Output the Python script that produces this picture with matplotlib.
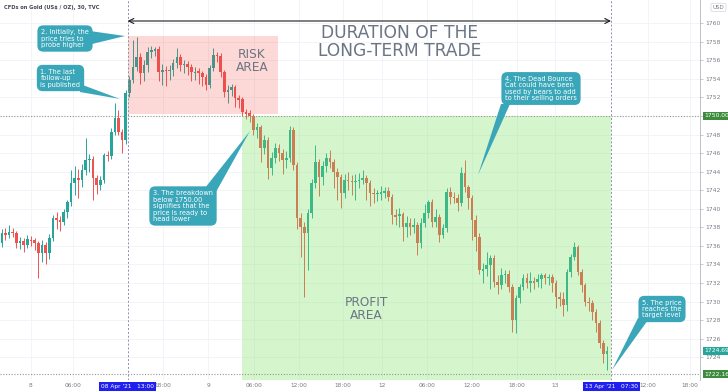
import matplotlib
matplotlib.use('Agg')
import matplotlib.pyplot as plt
import matplotlib.transforms as mtransforms
from matplotlib.patches import Rectangle, Polygon

# ---------------- data (30-min candles, bar index from 8 Apr 00:00) ----------------
start_index = -8
first_open = 1736.3
closes = [
    1737.4, 1737.2, 1737.5, 1737.4, 1736.3, 1736.5, 1736.1, 1736.7,
    1736.6, 1736.3, 1735.2, 1736.1, 1735.2, 1736.9, 1739.0, 1738.8, 1738.6, 1739.7,
    1740.7, 1742.8, 1743.3, 1743.1, 1744.2, 1745.3, 1745.4, 1743.3, 1742.6, 1743.1,
    1745.8, 1745.7, 1748.3, 1749.8, 1748.3, 1747.4, 1752.5, 1753.9, 1755.3, 1756.4,
    1754.6, 1755.5, 1756.9, 1757.1, 1757.2, 1754.7, 1755.0, 1754.8, 1755.0, 1755.7,
    1756.4, 1755.5, 1755.6, 1755.3, 1754.7, 1754.8, 1754.6, 1754.2, 1753.3, 1755.2,
    1756.6, 1756.5, 1754.7, 1752.6, 1752.8, 1753.1, 1751.9, 1751.8, 1750.4, 1750.3,
    1750.0, 1748.5, 1748.8, 1746.6, 1747.4, 1744.4, 1745.5, 1746.6, 1746.0, 1745.3,
    1745.5, 1748.5, 1744.7, 1739.0, 1738.0, 1737.4, 1739.5, 1742.8, 1745.0, 1743.4,
    1744.6, 1745.5, 1745.0, 1744.0, 1743.4, 1741.7, 1743.1, 1743.0, 1742.9, 1743.0,
    1743.1, 1743.3, 1742.8, 1741.7, 1741.6, 1741.6, 1741.8, 1741.9, 1741.3, 1739.3,
    1739.2, 1739.4, 1738.0, 1738.5, 1738.0, 1738.3, 1736.3, 1738.5, 1739.5, 1740.7,
    1738.6, 1739.1, 1737.2, 1737.9, 1741.8, 1741.3, 1741.2, 1740.6, 1743.9, 1742.3,
    1741.2, 1738.8, 1737.0, 1733.4, 1733.5, 1733.9, 1734.7, 1732.1, 1731.8, 1732.9,
    1733.0, 1731.6, 1728.0, 1730.4, 1731.6, 1732.5, 1732.0, 1732.2, 1732.1, 1732.4,
    1732.9, 1732.5, 1732.7, 1732.0, 1730.5, 1730.3, 1729.6, 1733.2, 1734.8, 1735.9,
    1733.2, 1731.8, 1730.0, 1729.8, 1728.9, 1727.7, 1725.5, 1724.4, 1724.69,
]
highs = [
    1737.8, 1737.9, 1738.3, 1737.9, 1737.6, 1737.0, 1736.9, 1737.2,
    1737.1, 1736.9, 1736.5, 1736.6, 1736.4, 1737.3, 1739.3, 1739.7, 1739.2, 1740.0,
    1741.0, 1744.2, 1744.6, 1744.3, 1744.8, 1747.6, 1745.9, 1745.7, 1743.6, 1743.5,
    1746.0, 1746.2, 1748.7, 1751.4, 1750.6, 1748.6, 1752.8, 1754.3, 1758.2, 1758.5,
    1756.8, 1756.0, 1757.4, 1757.5, 1757.4, 1757.5, 1755.6, 1755.4, 1755.5, 1756.1,
    1757.3, 1756.7, 1756.0, 1755.9, 1755.6, 1755.3, 1755.2, 1754.9, 1754.5, 1755.5,
    1757.3, 1756.9, 1756.8, 1755.0, 1753.3, 1753.5, 1753.3, 1752.3, 1752.0, 1750.8,
    1750.6, 1750.2, 1749.2, 1749.0, 1748.0, 1747.7, 1746.1, 1747.1, 1747.0, 1746.4,
    1746.2, 1748.9, 1748.8, 1745.0, 1739.5, 1738.6, 1740.0, 1743.2, 1746.9, 1745.4,
    1745.2, 1746.0, 1746.3, 1745.4, 1744.4, 1743.8, 1743.7, 1744.0, 1743.6, 1743.8,
    1743.9, 1744.2, 1743.6, 1743.1, 1742.2, 1742.0, 1742.5, 1742.4, 1742.3, 1741.6,
    1740.0, 1740.1, 1739.7, 1739.2, 1739.0, 1739.0, 1738.6, 1739.0, 1740.5, 1741.0,
    1741.1, 1740.0, 1739.4, 1738.4, 1742.2, 1742.3, 1741.8, 1741.6, 1744.5, 1745.3,
    1742.6, 1741.5, 1739.3, 1737.4, 1734.2, 1735.3, 1735.0, 1735.0, 1732.9, 1733.6,
    1733.4, 1733.4, 1731.9, 1730.7, 1731.9, 1733.0, 1733.1, 1733.2, 1732.7, 1733.0,
    1733.1, 1733.1, 1733.0, 1733.0, 1732.3, 1731.0, 1731.0, 1733.5, 1735.1, 1736.4,
    1736.1, 1733.5, 1732.0, 1730.5, 1730.2, 1729.2, 1728.0, 1725.9, 1725.2,
]
lows = [
    1735.9, 1736.6, 1736.9, 1737.0, 1735.8, 1735.7, 1735.3, 1735.8,
    1736.0, 1735.6, 1732.5, 1734.3, 1734.0, 1734.6, 1736.5, 1737.8, 1737.6, 1738.2,
    1739.0, 1740.3, 1741.5, 1741.2, 1742.3, 1743.6, 1744.0, 1741.0, 1741.6, 1742.0,
    1742.8, 1745.2, 1745.4, 1748.0, 1747.9, 1746.0, 1747.0, 1752.0, 1753.6, 1754.8,
    1753.5, 1753.8, 1754.7, 1756.2, 1756.5, 1753.8, 1753.3, 1753.2, 1753.9, 1754.3,
    1755.2, 1754.9, 1754.6, 1754.4, 1753.8, 1753.9, 1753.5, 1753.2, 1752.8, 1753.0,
    1754.9, 1755.8, 1754.2, 1752.0, 1751.4, 1752.2, 1751.0, 1750.9, 1750.0, 1749.7,
    1749.4, 1748.0, 1747.6, 1745.0, 1745.9, 1743.2, 1743.6, 1744.9, 1745.2, 1743.8,
    1744.4, 1745.0, 1744.2, 1737.8, 1734.8, 1730.5, 1733.4, 1739.0, 1742.2, 1741.4,
    1742.6, 1744.0, 1744.4, 1742.2, 1741.0, 1740.1, 1741.2, 1742.0, 1741.5, 1741.0,
    1742.2, 1742.7, 1741.0, 1740.3, 1740.6, 1740.8, 1741.0, 1741.2, 1740.8, 1738.4,
    1738.2, 1738.0, 1736.5, 1737.0, 1737.2, 1737.4, 1735.0, 1735.8, 1738.0, 1739.0,
    1738.0, 1738.0, 1736.4, 1736.8, 1737.5, 1740.5, 1740.6, 1739.8, 1740.3, 1741.8,
    1740.0, 1736.6, 1735.5, 1733.0, 1732.0, 1732.8, 1731.4, 1731.6, 1730.8, 1731.4,
    1732.0, 1731.0, 1726.7, 1726.6, 1729.8, 1731.2, 1731.5, 1731.0, 1731.4, 1731.6,
    1731.5, 1731.9, 1731.8, 1731.0, 1729.3, 1729.5, 1728.4, 1729.0, 1732.6, 1734.5,
    1732.9, 1731.0, 1729.5, 1729.0, 1728.0, 1726.7, 1725.0, 1723.4, 1722.6,
]
opens = [first_open] + closes[:-1]
xs = list(range(start_index, start_index + len(closes)))

tick_pos = [0, 11.5, 36.2, 48.6, 61.2, 73.5, 85.6, 96.3, 108.6, 121.0, 133.3, 143.8, 169.3, 180.8]
tick_lab = ['8', '06:00', '18:00', '9', '06:00', '12:00', '18:00', '12', '06:00', '12:00', '18:00', '13', '12:00', '18:00']
price_ticks = list(range(1724, 1762, 2))

entry_idx, entry_lab = 26.5, "08 Apr '21   13:00"
exit_idx, exit_lab = 159.1, "13 Apr '21   07:30"
level_break = 1750.00
level_target = 1722.16
last_price = 1724.69

risk_box = (26.5, 67.8, 1750.2, 1758.6)     # x0, x1, y0, y1
profit_box = (57.9, 159.1, 1721.0, 1750.0)

# ---------------- figure ----------------
W, H = 728, 391
fig = plt.figure(figsize=(W / 100, H / 100), dpi=100)
plt.rcParams['font.family'] = ['DejaVu Sans']
ax = fig.add_axes([0, 11 / H, 700 / W, 380 / H])
XL = (-8.5, 183.5)
YL = (1721.55, 1762.5)
ax.set_xlim(*XL)
ax.set_ylim(*YL)

def P(px, py):
    """pixel position in the image -> data coords (layout helper)"""
    x = XL[0] + px / 700 * (XL[1] - XL[0])
    y = YL[1] - py / 380 * (YL[1] - YL[0])
    return (x, y)

for s in ['top', 'left', 'bottom']:
    ax.spines[s].set_visible(False)
ax.spines['right'].set_color('#b2b5be')
ax.spines['right'].set_linewidth(0.6)

# grid
for p in price_ticks:
    ax.axhline(p, color='#f0f3fa', lw=0.6, zorder=0)
for t in tick_pos:
    ax.axvline(t, color='#f0f3fa', lw=0.6, zorder=0)

# candles
UP, DOWN = '#26a69a', '#ef5350'
for x, o, h, l, c in zip(xs, opens, highs, lows, closes):
    col = UP if c >= o else DOWN
    ax.vlines(x, l, h, color=col, lw=0.7, zorder=2)
    if abs(c - o) > 0.14:
        ax.bar(x, c - o, bottom=o, width=0.72, color=col, lw=0, zorder=2)
    else:
        ax.bar(x, 0.14, bottom=min(o, c) - 0.05, width=0.72, color=col, lw=0, zorder=2)

# overlay areas
ax.add_patch(Rectangle((risk_box[0], risk_box[2]), risk_box[1] - risk_box[0], risk_box[3] - risk_box[2],
                       fc='#f44336', alpha=0.2, ec='none', zorder=3))
ax.add_patch(Rectangle((profit_box[0], profit_box[2]), profit_box[1] - profit_box[0], profit_box[3] - profit_box[2],
                       fc='#76e35a', alpha=0.3, ec='none', zorder=3))

# horizontal levels
ax.axhline(level_break, color='#9a9c8c', lw=0.8, ls=(0, (1, 1.5)), zorder=4)
ax.axhline(level_target, color='#8d9a8d', lw=0.8, ls=(0, (1, 1.5)), zorder=4)
# vertical markers
for xi in (entry_idx, exit_idx):
    ax.axvline(xi, color='#8a90a8', lw=0.7, ls=(0, (2, 2)), zorder=4)

# duration arrow
ax.annotate('', xy=(exit_idx, P(0, 21)[1]), xytext=(entry_idx, P(0, 21)[1]),
            arrowprops=dict(arrowstyle='<->', color='#1e1e1e', lw=0.8,
                            shrinkA=0, shrinkB=0, mutation_scale=9), zorder=5)

GRAY = '#6b7584'
ax.text(*P(400, 42), 'DURATION OF THE\nLONG-TERM TRADE', ha='center', va='center',
        fontsize=12.3, color=GRAY, linespacing=1.0, zorder=6)
ax.text(*P(252, 61), 'RISK\nAREA', ha='center', va='center', fontsize=8.7,
        color=GRAY, linespacing=1.05, zorder=6)
ax.text(*P(366, 309), 'PROFIT\nAREA', ha='center', va='center', fontsize=8.7,
        color=GRAY, linespacing=1.05, zorder=6)

# callouts
TEAL = '#3aa6b9'
def callout(text, c, b1, b2, tip):
    ax.add_patch(Polygon([P(*b1), P(*b2), P(*tip)], closed=True, fc=TEAL, ec='none', zorder=6))
    ax.text(*P(*c), text, ha='center', va='center', multialignment='left', fontsize=4.8,
            color='white', zorder=7, linespacing=1.1,
            bbox=dict(boxstyle='round,pad=0.55,rounding_size=0.9', fc=TEAL, ec='none'))

callout('2. Initially, the\nprice tries to\nprobe higher', (65, 38.5), (90, 31), (92, 44), (125, 36))
callout('1. The last\nfollow-up\nis published', (60.5, 78), (80, 84), (80, 92), (120, 99))
callout('3. The breakdown\nbelow 1750.00\nsignifies that the\nprice is ready to\nhead lower',
        (183, 206), (205, 188), (216, 192), (250, 131))
callout('4. The Dead Bounce\nCat could have been\nused by bears to add\nto their selling orders',
        (541, 88.5), (501, 104), (510, 104), (478, 175))
callout('5. The price\nreaches the\ntarget level', (662, 309), (638, 318), (648, 320), (612, 370))

# title
ax.text(*P(4, 7), 'CFDs on Gold (US$ / OZ), 30, TVC', ha='left', va='center', fontsize=3.7,
        color='#434651', fontweight='bold', zorder=7)

# right axis
ax.yaxis.tick_right()
ax.set_yticks(price_ticks)
ax.set_yticklabels(['' if p == 1750 else str(p) for p in price_ticks])
ax.tick_params(axis='y', length=2, width=0.5, color='#b2b5be', pad=1.5, labelsize=4.3,
               labelcolor='#787b86')
ax.set_xticks(tick_pos)
ax.set_xticklabels(tick_lab)
ax.tick_params(axis='x', length=0, pad=2.5, labelsize=4.2, labelcolor='#787b86')

ty = mtransforms.blended_transform_factory(ax.transAxes, ax.transData)
for val, txt, col in [(level_break, '1750.00', '#3d8b3d'), (last_price, '1724.69', '#26a69a'),
                      (level_target, '1722.16', '#3d8b3d')]:
    ax.text(1.006, val, txt, transform=ty, ha='left', va='center', fontsize=4.3, color='white',
            zorder=8, clip_on=False, bbox=dict(boxstyle='square,pad=0.25', fc=col, ec='none'))
ax.text(1.018, 1761.7, 'USD', transform=ty, ha='left', va='center', fontsize=4.0, color='#787b86',
        clip_on=False, bbox=dict(boxstyle='round,pad=0.3', fc='white', ec='#d1d4dc', lw=0.5))

tx = mtransforms.blended_transform_factory(ax.transData, ax.transAxes)
for xi, txt in [(entry_idx, entry_lab), (exit_idx, exit_lab)]:
    ax.text(xi, -0.016, txt, transform=tx, ha='center', va='center', fontsize=4.2, color='white',
            zorder=8, clip_on=False, bbox=dict(boxstyle='square,pad=0.35', fc='#1f1ff0', ec='none'))

fig.savefig('out.png', dpi=100)
